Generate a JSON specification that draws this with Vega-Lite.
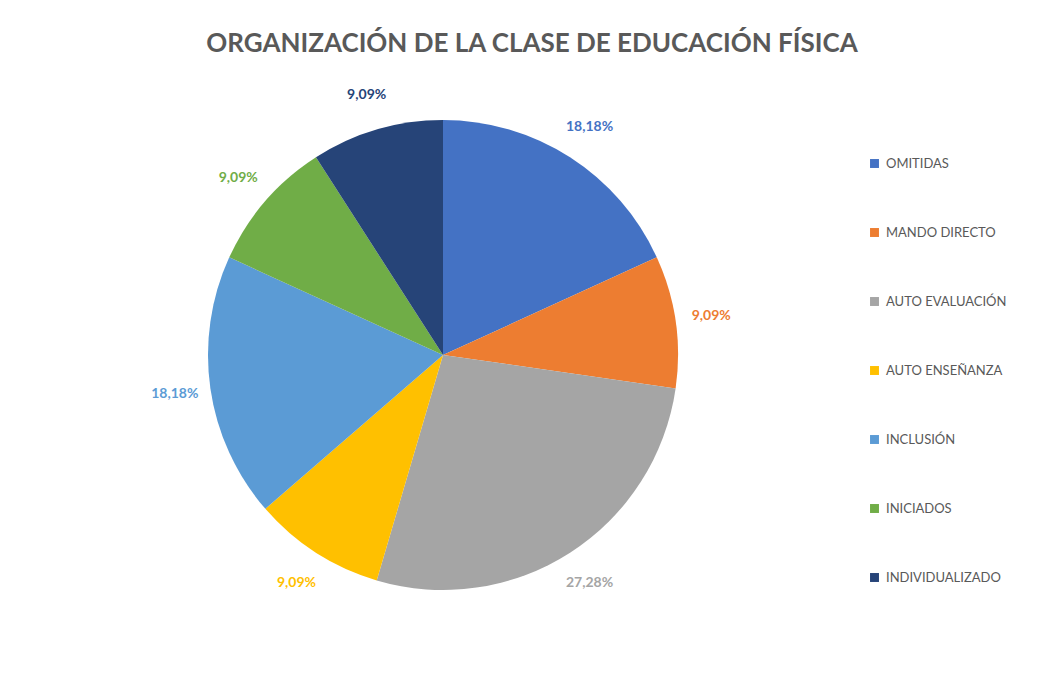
{
  "$schema": "https://vega.github.io/schema/vega-lite/v6.json",
  "width": 886,
  "height": 580,
  "padding": {"top": 31, "left": 0, "right": 0, "bottom": 0},
  "background": "white",
  "title": {
    "text": "ORGANIZACIÓN DE LA CLASE DE EDUCACIÓN FÍSICA",
    "font": "Lato",
    "fontSize": 26,
    "fontWeight": "bold",
    "color": "#595959",
    "anchor": "middle",
    "dx": 89,
    "offset": 8
  },
  "data": {
    "values": [
      {"categoria": "OMITIDAS", "porcentaje": 18.18, "etiqueta": "18,18%", "orden": 1},
      {"categoria": "MANDO DIRECTO", "porcentaje": 9.09, "etiqueta": "9,09%", "orden": 2},
      {"categoria": "AUTO EVALUACIÓN", "porcentaje": 27.28, "etiqueta": "27,28%", "orden": 3},
      {"categoria": "AUTO ENSEÑANZA", "porcentaje": 9.09, "etiqueta": "9,09%", "orden": 4},
      {"categoria": "INCLUSIÓN", "porcentaje": 18.18, "etiqueta": "18,18%", "orden": 5},
      {"categoria": "INICIADOS", "porcentaje": 9.09, "etiqueta": "9,09%", "orden": 6},
      {"categoria": "INDIVIDUALIZADO", "porcentaje": 9.09, "etiqueta": "9,09%", "orden": 7}
    ]
  },
  "encoding": {
    "theta": {"field": "porcentaje", "type": "quantitative", "stack": true},
    "order": {"field": "orden", "type": "ordinal"},
    "color": {
      "field": "categoria",
      "type": "nominal",
      "scale": {
        "domain": ["OMITIDAS", "MANDO DIRECTO", "AUTO EVALUACIÓN", "AUTO ENSEÑANZA", "INCLUSIÓN", "INICIADOS", "INDIVIDUALIZADO"],
        "range": ["#4472c4", "#ed7d31", "#a5a5a5", "#ffc000", "#5b9bd5", "#70ad47", "#264478"]
      },
      "legend": {
        "title": null,
        "orient": "none",
        "legendX": 868,
        "legendY": 92,
        "symbolType": "square",
        "symbolSize": 80,
        "symbolStrokeWidth": 0,
        "labelFont": "Lato",
        "labelFontSize": 13,
        "labelColor": "#595959",
        "rowPadding": 55,
        "labelOffset": 5
      }
    }
  },
  "layer": [
    {
      "mark": {"type": "arc", "outerRadius": 235}
    },
    {
      "mark": {"type": "text", "radius": 271, "font": "Lato", "fontSize": 14, "fontWeight": "bold"},
      "encoding": {
        "text": {"field": "etiqueta", "type": "nominal"}
      }
    }
  ],
  "config": {"view": {"stroke": null}}
}
